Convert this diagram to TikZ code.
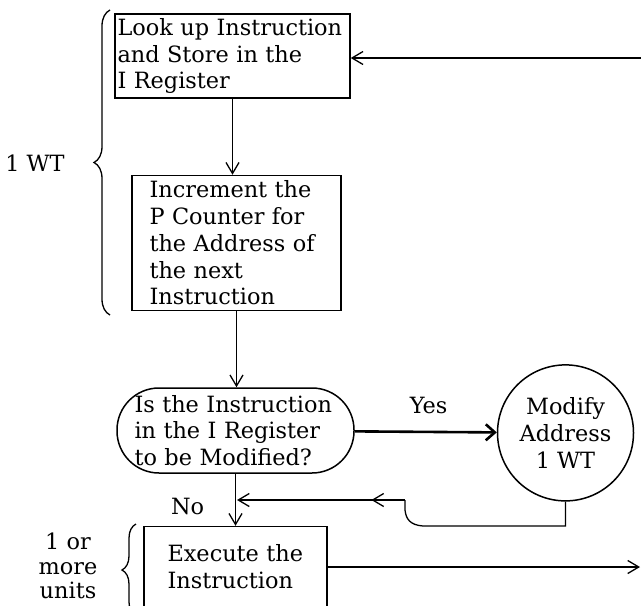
\documentclass[tikz,border=0pt]{standalone}
\usepackage{fontspec}
\setmainfont{DejaVu Serif}
\usetikzlibrary{arrows.meta,positioning,decorations.pathreplacing,decorations.markings}
\newcommand\flowfont{\fontsize{11.2}{13.4}\selectfont}
\tikzset{
  box/.style={draw, line width=.75pt, inner sep=0pt, font=\flowfont},
  stepbox/.style={box, rectangle},
  query/.style={box, rectangle, rounded corners=21pt},
  modbox/.style={box, circle, minimum size=68pt, align=center},
  arr/.style={-{Straight Barb[length=5.5pt,width=6.5pt]}, line width=.65pt},
  yesarr/.style={-{Straight Barb[length=4.5pt,width=8pt]}, line width=1.3pt},
  plain/.style={line width=.65pt},
  midbarb/.style={postaction={decorate}, decoration={markings,
      mark=at position #1 with {\arrow{Straight Barb[length=5.5pt,width=6.5pt]}}}},
  brc/.style={decorate, line width=.65pt, decoration={brace, amplitude=#1}},
  lbl/.style={font=\flowfont, align=center}
}
\begin{document}
\begin{tikzpicture}[x=0.5pt, y=-0.5pt]
  \useasboundingbox (0,0) rectangle (641,605);

  % main column
  \node[stepbox, minimum width=117.5pt, minimum height=42pt,
        text width=115pt, align=left] (lookup) at (232.5,56)
        {Look up Instruction\\and Store in the\\I Register};
  \node[stepbox, below=38pt of lookup, xshift=2pt, minimum width=104.5pt,
        minimum height=67.5pt, text width=87pt, align=left] (incr)
        {Increment the\\P Counter for\\the Address of\\the next\\Instruction};
  \node[query, below=38pt of incr, xshift=-0.5pt, minimum width=118.5pt,
        minimum height=42.5pt, text width=101pt, align=left] (decide)
        {Is the Instruction\\in the I Register\\to be Modified?};
  \node[modbox, right=71pt of decide, yshift=-1.2pt] (modify)
        {Modify\\Address\\1 WT};
  \node[stepbox, below=26pt of decide, minimum width=91.5pt,
        minimum height=40.5pt, text width=68pt, align=left] (exec)
        {Execute the\\Instruction};

  % timing notes
  \node[lbl] (wt) at (35,163) {1 WT};
  \node[lbl, font=\fontsize{11.2}{12.3}\selectfont] (units) at (68,566)
        {1 or\\more\\units};
  \draw[brc=8pt] (110,315) -- (110,10);
  \draw[brc=7pt] (136,616) -- (136,524);

  % free ends
  \coordinate (loopin) at (641,58);
  \coordinate (exitpt) at (640,567);
  \coordinate (join) at (237,500);
  \coordinate (bend) at (405,500);

  \draw[arr] (loopin) -- (loopin -| lookup.east);
  \draw[arr] (lookup.south) -- (lookup.south |- incr.north);
  \draw[arr] (incr.south) -- (incr.south |- decide.north);
  \draw[yesarr] (decide) -- node[lbl, above=5pt, pos=.52] {Yes} (modify);
  \draw[arr] (decide.south) -- node[lbl, left=12pt, pos=.62] {No}
        (decide.south |- exec.north);
  \draw[plain] (modify.south) |- (423,526)
        .. controls (410,525) and (406,519) .. (405,510) -- (bend);
  \draw[arr, midbarb=.2] (bend) -- (join);
  \draw[arr] (exec.east |- exitpt) -- (exitpt);
\end{tikzpicture}
\end{document}
